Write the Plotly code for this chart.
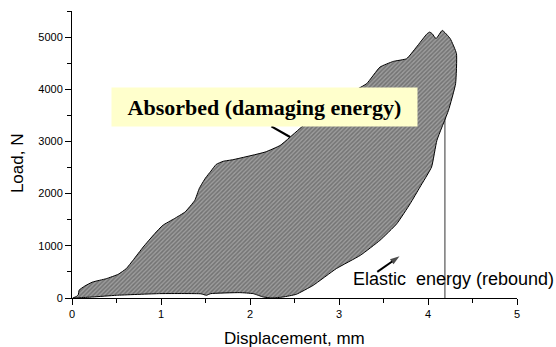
import plotly.graph_objects as go

# Loading (upper) curve then unloading curve, then lower edge back to origin
disp = [0.01, 0.05, 0.07, 0.08, 0.14, 0.23, 0.385, 0.52, 0.61, 0.685, 0.80, 0.93, 1.02, 1.15, 1.27,
        1.38, 1.43, 1.50, 1.56, 1.62, 1.70, 1.81, 2.17, 2.34, 2.58, 2.80, 3.05, 3.31, 3.46, 3.61,
        3.76, 3.87, 3.99, 4.02, 4.05, 4.09, 4.16, 4.25, 4.32, 4.31, 4.23, 4.10, 4.04, 3.91, 3.80,
        3.65, 3.46, 3.24, 2.97, 2.71, 2.52, 2.37, 2.25, 2.15, 2.035, 1.885, 1.56, 1.51, 1.45,
        0.985, 0.50, 0.23, 0.08, 0.01]
load = [0, 30, 60, 150, 225, 305, 370, 455, 563, 722, 977, 1234, 1393, 1521, 1648,
        1872, 2100, 2300, 2430, 2560, 2620, 2651, 2797, 2925, 3276, 3580, 3860, 4107, 4425, 4534,
        4586, 4808, 5065, 5096, 5060, 4969, 5128, 4969, 4682, 4107, 3596, 3021, 2510, 2126, 1808,
        1425, 1105, 818, 563, 243, 71, 19, 0, 19, 84, 103, 84, 52, 80,
        84, 52, 19, 5, 0]

rebound_x = [4.19, 4.19]
rebound_y = [0, 3500]

absorbed_arrow_x = [2.24, 2.45]
absorbed_arrow_y = [3289, 3084]
elastic_arrow_x = [3.43, 3.68]
elastic_arrow_y = [500, 798]

x_ticks = [0, 1, 2, 3, 4, 5]
y_ticks = [0, 1000, 2000, 3000, 4000, 5000]

fig = go.Figure()
fig.add_trace(go.Scatter(x=rebound_x, y=rebound_y, mode="lines",
                         line=dict(color="#555555", width=1.2), showlegend=False))
fig.add_trace(go.Scatter(
    x=disp, y=load, mode="lines", fill="toself",
    line=dict(color="black", width=1, shape="spline", smoothing=0.4),
    fillcolor="#7a7a7a",
    fillpattern=dict(shape="/", fgcolor="#4a4a4a", bgcolor="#9c9c9c", size=3, solidity=0.5),
    showlegend=False))
fig.add_trace(go.Scatter(x=absorbed_arrow_x, y=absorbed_arrow_y, mode="lines",
                         line=dict(color="black", width=2.2), showlegend=False))
fig.add_trace(go.Scatter(x=elastic_arrow_x, y=elastic_arrow_y, mode="lines+markers",
                         line=dict(color="black", width=2),
                         marker=dict(symbol=["circle", "arrow"], size=[0, 10], color="black",
                                     angleref="previous", line=dict(width=0)),
                         showlegend=False))

axis_common = dict(showgrid=False, zeroline=False, showline=True, linecolor="black", linewidth=1,
                   ticks="outside", ticklen=6, tickcolor="black", tickwidth=1,
                   tickfont=dict(family="Liberation Sans, Arial", size=11, color="black"))

fig.update_xaxes(range=[0, 5], tickvals=x_ticks, ticktext=[str(v) for v in x_ticks],
                 minor=dict(dtick=0.5, ticks="outside", ticklen=4, tickcolor="black"), **axis_common)
fig.update_yaxes(range=[0, 5500], tickvals=y_ticks, ticktext=[str(v) for v in y_ticks],
                 minor=dict(dtick=500, ticks="outside", ticklen=4, tickcolor="black"), **axis_common)

fig.add_annotation(text="Absorbed (damaging energy)", x=2.16, y=3669, xref="x", yref="y",
                   showarrow=False, bgcolor="#ffffcc", width=295, height=28, borderpad=5,
                   font=dict(family="Liberation Serif, Times New Roman", size=22, color="black",
                             weight="bold"))
fig.add_annotation(text="Elastic\u00a0\u00a0energy (rebound)", x=4.29, y=358, xref="x", yref="y",
                   showarrow=False, font=dict(family="Liberation Sans, Arial", size=18, color="black"))

fig.add_annotation(text="Displacement, mm", x=0.5, y=0, xref="paper", yref="paper",
                   yanchor="middle", yshift=-40, showarrow=False,
                   font=dict(family="Liberation Sans, Arial", size=17, color="black"))
fig.add_annotation(text="Load, N", x=0, y=0.47, xref="paper", yref="paper", textangle=-90,
                   xanchor="center", yanchor="middle", xshift=-55, showarrow=False,
                   font=dict(family="Liberation Sans, Arial", size=17, color="black"))

fig.update_layout(width=556, height=347, margin=dict(l=72, r=39, t=11, b=49),
                  paper_bgcolor="white", plot_bgcolor="white")
fig.write_html("out.html")
